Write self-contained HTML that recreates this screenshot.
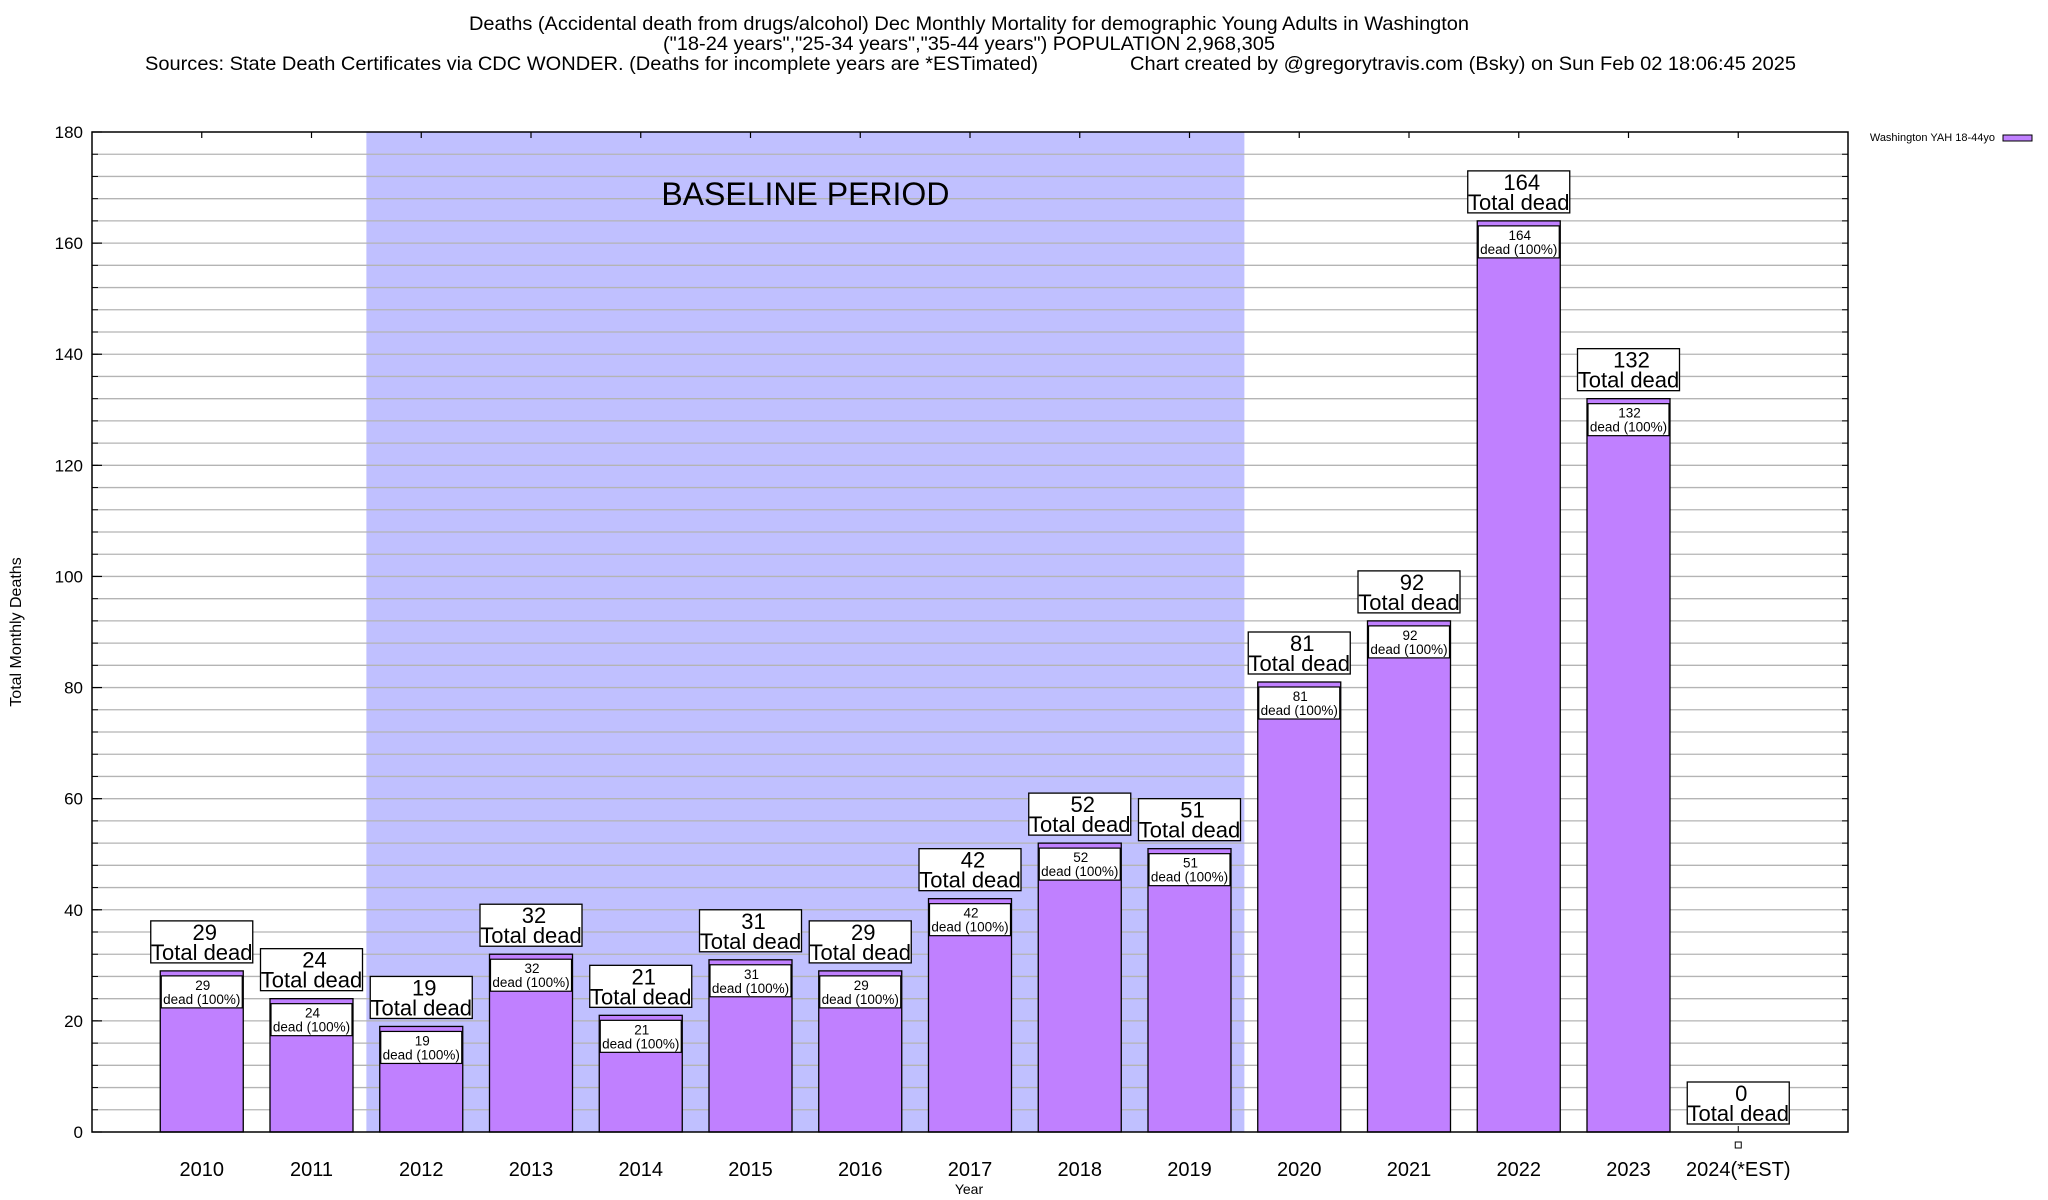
<!DOCTYPE html>
<html><head><meta charset="utf-8">
<style>
html,body{margin:0;padding:0;background:#fff;}
svg{display:block;font-family:"Liberation Sans",Arial,sans-serif;}
</style></head>
<body>
<svg id="chart" width="2048" height="1200" viewBox="0 0 2048 1200" xmlns="http://www.w3.org/2000/svg">
<g font-size="19.5" fill="#000" text-anchor="middle">
<text x="469" y="30" text-anchor="start" textLength="1000" lengthAdjust="spacingAndGlyphs">Deaths (Accidental death from drugs/alcohol) Dec Monthly Mortality for demographic Young Adults in Washington</text>
<text x="663" y="50" text-anchor="start" textLength="612" lengthAdjust="spacingAndGlyphs">("18-24 years","25-34 years","35-44 years") POPULATION 2,968,305</text>
<text x="145" y="70" text-anchor="start" textLength="893" lengthAdjust="spacingAndGlyphs">Sources: State Death Certificates via CDC WONDER. (Deaths for incomplete years are *ESTimated)</text>
<text x="1130" y="70" text-anchor="start" textLength="666" lengthAdjust="spacingAndGlyphs">Chart created by @gregorytravis.com (Bsky) on Sun Feb 02 18:06:45 2025</text>
</g>
<g id="plot"></g>
<text x="969" y="1194" font-size="14" text-anchor="middle">Year</text>
<text transform="translate(21,632) rotate(-90)" font-size="16" text-anchor="middle">Total Monthly Deaths</text>
<g>
<text x="1995" y="141" font-size="11" text-anchor="end">Washington YAH 18-44yo</text>
<rect x="2003" y="135" width="29" height="6" fill="#c080ff" stroke="#000" stroke-width="1"/>
</g>
</svg>
<script>
const categories = ["2010","2011","2012","2013","2014","2015","2016","2017","2018","2019","2020","2021","2022","2023","2024(*EST)"];
const deaths = [29,24,19,32,21,31,29,42,52,51,81,92,164,132,0];
const yTicks = [0,20,40,60,80,100,120,140,160,180];
const baselineStart = "2012";
const baselineEnd = "2019";

const NS = "http://www.w3.org/2000/svg";
const L = 92, R = 1848, T = 132, B = 1132;
const yMax = 180;
const slot = (R - L) / 16;
function xScale(i){ return L + slot * (i + 1); }
function yScale(v){ return B - (v / yMax) * (B - T); }
function mk(tag, attrs, parent){
  const e = document.createElementNS(NS, tag);
  for (const k in attrs) e.setAttribute(k, attrs[k]);
  parent.appendChild(e);
  return e;
}
const plot = document.getElementById('plot');

const bs = categories.indexOf(baselineStart), be = categories.indexOf(baselineEnd);
const band = mk('rect', {x: xScale(bs) - slot/2, y: T, width: (be - bs + 1) * slot, height: B - T, fill: '#c0c0ff'}, plot);



for (let v = 4; v < yMax; v += 4) {
  const g = mk('line', {x1: L, x2: R, y1: yScale(v), y2: yScale(v), stroke: '#b4b4b4', 'stroke-width': 1.3}, plot);
  
  
  const tl = mk('line', {x1: L, x2: L + 6, y1: yScale(v), y2: yScale(v), stroke: '#000', 'stroke-width': 1}, plot);
  
  
  const tr = mk('line', {x1: R - 6, x2: R, y1: yScale(v), y2: yScale(v), stroke: '#000', 'stroke-width': 1}, plot);
  
  
}

const bt = mk('text', {x: (xScale(bs) + xScale(be)) / 2, y: 205, 'font-size': 32, 'text-anchor': 'middle'}, plot);
bt.textContent = 'BASELINE PERIOD';



yTicks.forEach(v => {
  const t = mk('text', {x: 83, y: yScale(v) + 6, 'font-size': 17, 'text-anchor': 'end'}, plot);
  t.textContent = v;
  
  
  const tk = mk('line', {x1: L, x2: L + 10, y1: yScale(v), y2: yScale(v), stroke: '#000', 'stroke-width': 1.2}, plot);
  
  
});

const bw = 83;
categories.forEach((c, i) => {
  const cx = xScale(i);
  const v = deaths[i];
  const top = yScale(v);
  if (v > 0) {
    const bar = mk('rect', {x: cx - bw/2, y: top, width: bw, height: B - top, fill: '#c080ff', stroke: '#000', 'stroke-width': 1.3}, plot);
    
    
    const ib = mk('rect', {x: cx - bw/2 + 1, y: top + 5, width: bw - 2, height: 32, fill: '#fff', stroke: '#000', 'stroke-width': 1.2}, plot);
    
    
    const t1 = mk('text', {x: cx + 1, y: top + 19, 'font-size': 13.5, 'text-anchor': 'middle'}, plot);
    t1.textContent = v;
    
    
    const t2 = mk('text', {x: cx, y: top + 33, 'font-size': 13.5, 'text-anchor': 'middle'}, plot);
    t2.textContent = 'dead (100%)';
    
    
  } else {
    const m = mk('rect', {x: cx - 3, y: 1142, width: 6, height: 6, fill: '#fff', stroke: '#000', 'stroke-width': 1}, plot);
    
    
    const ln = mk('line', {x1: cx, x2: cx, y1: B - 6, y2: B, stroke: '#000', 'stroke-width': 1}, plot);
    
    
  }
  const oy = top - 50;
  const ob = mk('rect', {x: cx - 51, y: oy, width: 102, height: 42, fill: '#fff', stroke: '#000', 'stroke-width': 1.3}, plot);
  
  
  const o1 = mk('text', {x: cx + 3, y: oy + 19, 'font-size': 22, 'text-anchor': 'middle'}, plot);
  o1.textContent = v;
  
  
  const o2 = mk('text', {x: cx, y: oy + 39, 'font-size': 22, 'text-anchor': 'middle'}, plot);
  o2.textContent = 'Total dead';
  
  
  const xl = mk('text', {x: cx, y: 1176, 'font-size': 20, 'text-anchor': 'middle'}, plot);
  xl.textContent = c;
  
  
  const tt = mk('line', {x1: cx, x2: cx, y1: T, y2: T + 6, stroke: '#000', 'stroke-width': 1.2}, plot);
  
  
});

const fr = mk('rect', {x: L, y: T, width: R - L, height: B - T, fill: 'none', stroke: '#000', 'stroke-width': 1.5}, plot);


</script>
</body></html>
